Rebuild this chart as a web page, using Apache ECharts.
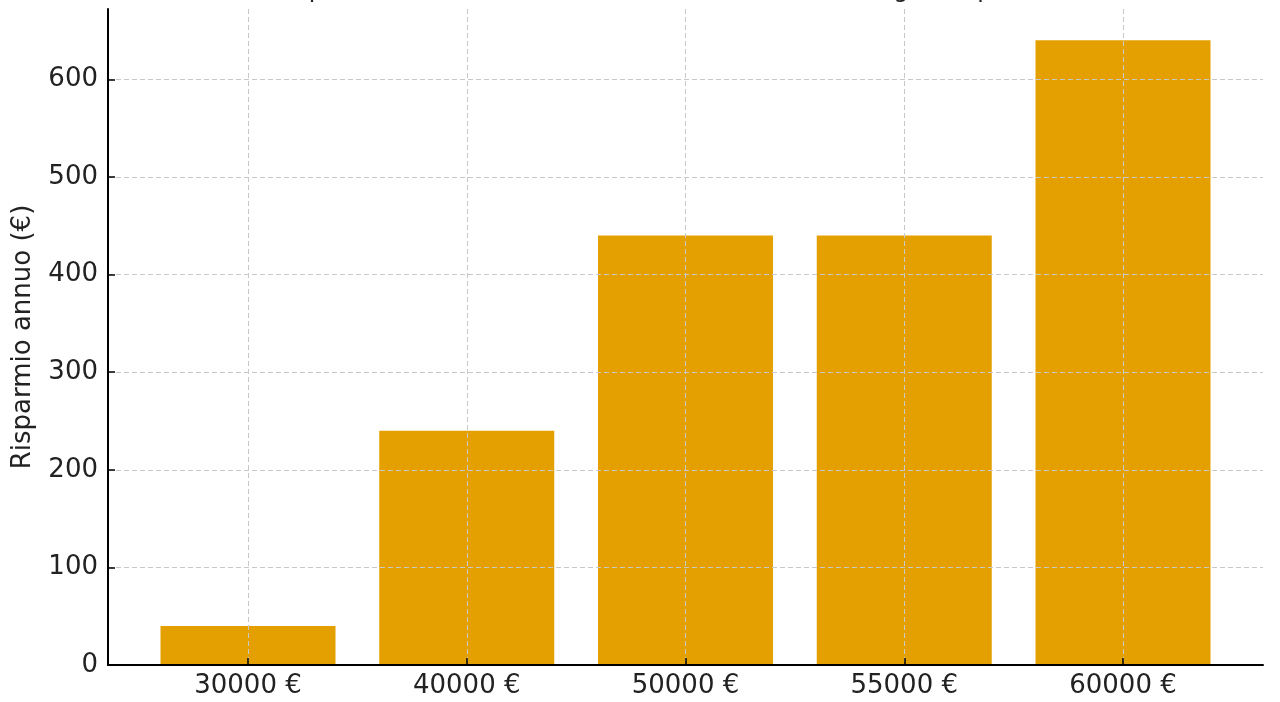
<!DOCTYPE html>
<html>
<head>
<meta charset="utf-8">
<script src="https://cdn.jsdelivr.net/npm/echarts@6/dist/echarts.min.js"></script>
<style>
  html, body { margin: 0; padding: 0; background: #fff; }
  #main { width: 1280px; height: 702px; }
</style>
</head>
<body>
<div id="main"></div>
<script>
var categories = ['30000 €', '40000 €', '50000 €', '55000 €', '60000 €'];
var savings = [40, 240, 440, 440, 640];
var yTicks = [0, 100, 200, 300, 400, 500, 600];

var positions = [];
var barData = [];
for (var i = 0; i < categories.length; i++) {
    positions.push(i);
    barData.push([i, savings[i]]);
}

var myChart = echarts.init(document.getElementById('main'));
var font = 'DejaVu Sans';
var option = {
    animation: false,
    title: {
        text: 'Risparmio annuo stimato in base al reddito con il regime tipo',
        left: 'center',
        top: -26,
        textStyle: { fontFamily: font, fontSize: 24, fontWeight: 'normal', color: '#222' }
    },
    grid: { left: 108, right: 17, top: 9, bottom: 37 },
    xAxis: {
        type: 'value',
        min: -0.64,
        max: 4.64,
        z: 3,
        axisLine: { show: true, onZero: false, lineStyle: { color: '#000', width: 2 } },
        axisTick: { show: true, inside: true, length: 7, customValues: positions, lineStyle: { color: '#000', width: 1.5 } },
        axisLabel: {
            customValues: positions,
            margin: 8,
            fontFamily: font, fontSize: 26, color: '#222',
            formatter: function (v) { return categories[Math.round(v)]; }
        },
        splitLine: { show: true, lineStyle: { color: '#c8c8c8', type: [5, 3], width: 1 } }
    },
    yAxis: {
        type: 'value',
        min: 0,
        max: 672,
        z: 3,
        name: 'Risparmio annuo (€)',
        nameLocation: 'middle',
        nameGap: 72,
        nameTextStyle: { fontFamily: font, fontSize: 26, color: '#222' },
        axisLine: { show: true, onZero: false, lineStyle: { color: '#000', width: 2 } },
        axisTick: { show: true, inside: true, length: 7, customValues: yTicks, lineStyle: { color: '#000', width: 1.5 } },
        axisLabel: { customValues: yTicks, margin: 10, fontFamily: font, fontSize: 26, color: '#222' },
        splitLine: { show: true, lineStyle: { color: '#c8c8c8', type: [5, 3], width: 1 } }
    },
    series: [{
        type: 'bar',
        data: barData,
        barWidth: 175,
        itemStyle: { color: '#E3A000' }
    }]
};
myChart.setOption(option);
</script>
</body>
</html>
